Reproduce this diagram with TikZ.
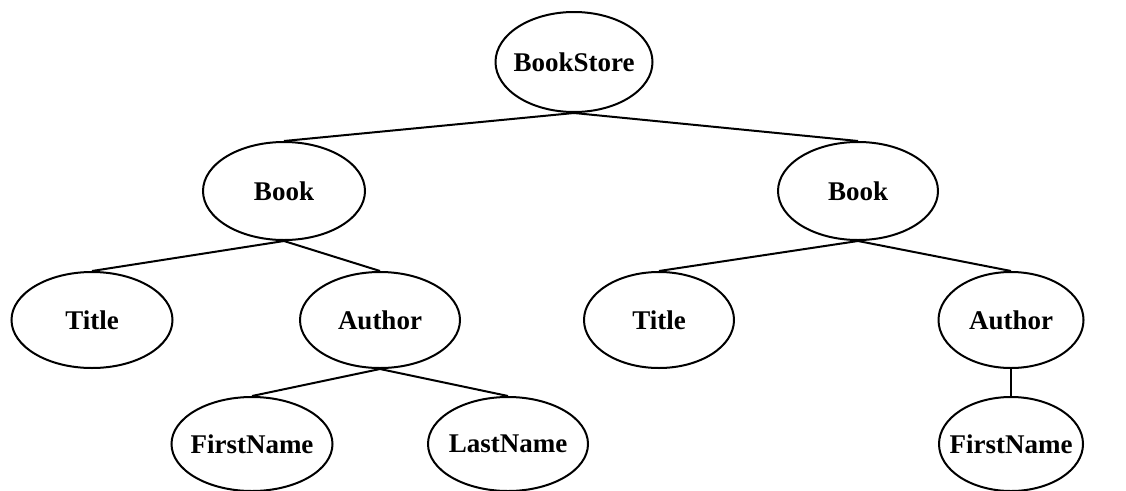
\documentclass[tikz,border=0pt]{standalone}
\usepackage{fontspec}
\setmainfont{Liberation Serif}
\usetikzlibrary{shapes.geometric}
\newcommand{\lbl}[1]{\makebox[0pt]{\raisebox{-2pt}{#1}}}
\begin{document}
\begin{tikzpicture}[x=1pt,y=-1pt,
  el/.style={ellipse,draw,line width=2pt,inner sep=0pt,font=\fontsize{27}{29}\selectfont\bfseries},
  edge/.style={line width=2pt}]
\useasboundingbox[fill=white] (0,0) rectangle (1126,490);
\node[el,minimum width=157pt,minimum height=100pt] (bs) at (574,62) {\lbl{BookStore}};
\node[el,minimum width=162pt,minimum height=98pt] (b1) at (284,191) {\lbl{Book}};
\node[el,minimum width=160pt,minimum height=98pt] (b2) at (858,191) {\lbl{Book}};
\node[el,minimum width=161pt,minimum height=96pt] (t1) at (92,320) {\lbl{Title}};
\node[el,minimum width=160pt,minimum height=96pt] (a1) at (380,320) {\lbl{Author}};
\node[el,minimum width=150pt,minimum height=96pt] (t2) at (659,320) {\lbl{Title}};
\node[el,minimum width=145pt,minimum height=96pt] (a2) at (1011,320) {\lbl{Author}};
\node[el,minimum width=161pt,minimum height=94pt] (f1) at (252,444) {\lbl{FirstName}};
\node[el,minimum width=160pt,minimum height=94pt] (l1) at (508,444) {\lbl{LastName}};
\node[el,minimum width=144pt,minimum height=94pt] (f2) at (1011,444) {\lbl{FirstName}};
\draw[edge] (bs.south) -- (b1.north);
\draw[edge] (bs.south) -- (b2.north);
\draw[edge] (b1.south) -- (t1.north);
\draw[edge] (b1.south) -- (a1.north);
\draw[edge] (b2.south) -- (t2.north);
\draw[edge] (b2.south) -- (a2.north);
\draw[edge] (a1.south) -- (f1.north);
\draw[edge] (a1.south) -- (l1.north);
\draw[edge] (a2.south) -- (f2.north);
\end{tikzpicture}
\end{document}
